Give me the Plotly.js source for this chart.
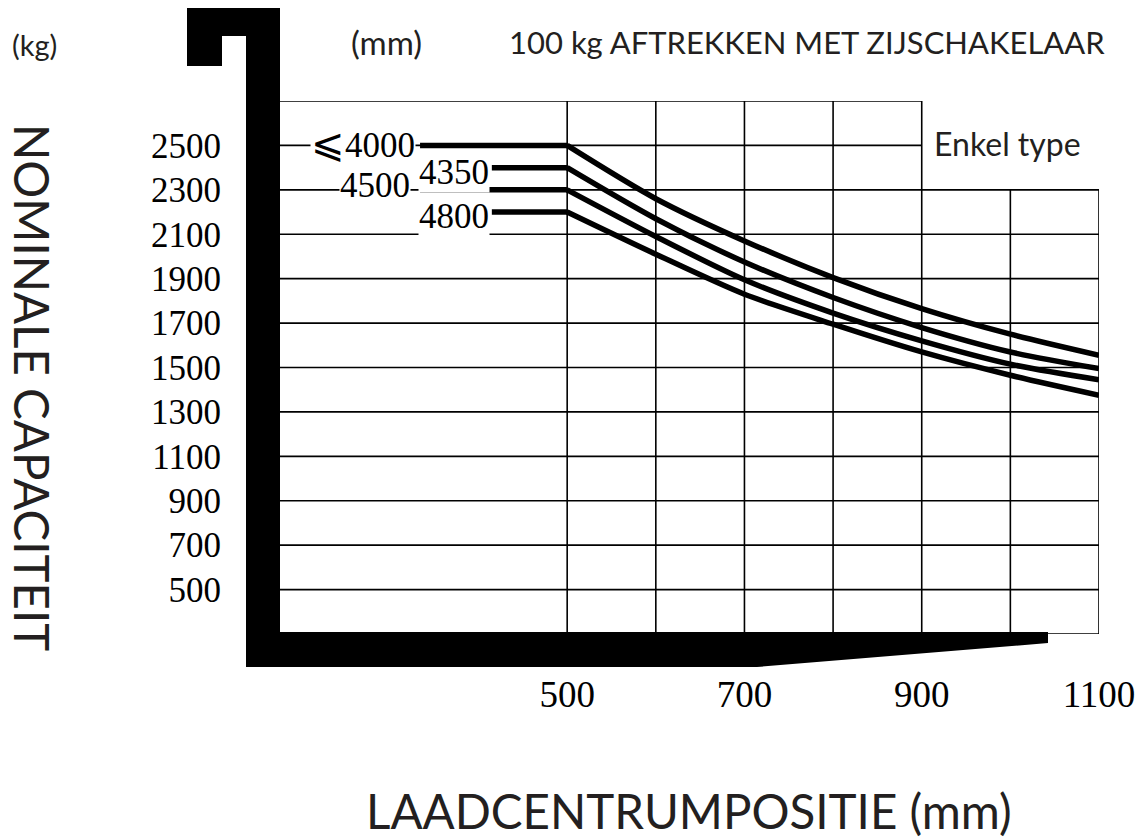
<!DOCTYPE html>
<html>
<head>
<meta charset="utf-8">
<script src="https://cdn.plot.ly/plotly-3.0.1.min.js"></script>
<style>html,body{margin:0;padding:0;background:#fff;}</style>
</head>
<body>
<div id="chart" style="width:1139px;height:839px;"></div>
<script>
// ---- data ----
const loadCentre = [500, 600, 700, 800, 900, 1000, 1100];
const cap4000 = [2500, 2260, 2070, 1905, 1765, 1650, 1555];
const cap4350 = [2400, 2170, 1975, 1815, 1680, 1570, 1495];
const cap4500 = [2300, 2090, 1895, 1745, 1620, 1515, 1445];
const cap4800 = [2200, 2010, 1830, 1695, 1570, 1465, 1375];
const flatStart = [334, 415, 334, 415];
const seriesLabels = ['<span style="font-size:40px">⩽</span>4000', '4350', '4500', '4800'];
const yTickVals = [500, 700, 900, 1100, 1300, 1500, 1700, 1900, 2100, 2300, 2500];
const yTickText = ['500', '700', '900', '1100', '1300', '1500', '1700', '1900', '2100', '2300', '2500'];
const xTickVals = [500, 700, 900, 1100];
const xTickText = ['500', '700', '900', '1100'];
const gridX = [500, 600, 700, 800, 900, 1000, 1100];
const gridY = [300, 500, 700, 900, 1100, 1300, 1500, 1700, 1900, 2100, 2300, 2500, 2700];

const series = [cap4000, cap4350, cap4500, cap4800];
const X0 = 176, X1 = 1100, Y0 = 300, Y1 = 2700;

// ---- traces ----
const traces = [];
series.forEach((vals, i) => {
  traces.push({
    x: [flatStart[i], loadCentre[0]], y: [vals[0], vals[0]],
    mode: 'lines', line: {color: '#000', width: 5.5}, hoverinfo: 'skip'
  });
  traces.push({
    x: loadCentre, y: vals,
    mode: 'lines', line: {color: '#000', width: 5.5, shape: 'spline', smoothing: 0.8}, hoverinfo: 'skip'
  });
});

// ---- grid shapes ----
const shapes = [];
const gridLine = {color: '#000', width: 1.6};
gridY.forEach(v => {
  const xEnd = v > 2300 ? 900 : X1;
  shapes.push({type: 'line', xref: 'x', yref: 'y', x0: X0, x1: xEnd, y0: v, y1: v, line: gridLine, layer: 'below'});
});
gridX.forEach(v => {
  const yEnd = v > 900 ? 2300 : Y1;
  shapes.push({type: 'line', xref: 'x', yref: 'y', x0: v, x1: v, y0: Y0, y1: yEnd, line: gridLine, layer: 'below'});
});

// ---- fork decoration (pixel outline mapped to paper) ----
const L = 280, R = 1099, T = 101, B = 634;
const px = p => (p - L) / (R - L);
const py = p => (B - p) / (B - T);
const fork = [[187, 8], [280, 8], [280, 632], [1048, 632], [1048, 643], [757, 667], [246, 667], [246, 36], [222, 36], [222, 66], [187, 66]];
const forkPath = fork.map((p, i) => (i === 0 ? 'M' : 'L') + px(p[0]).toFixed(5) + ',' + py(p[1]).toFixed(5)).join(' ') + ' Z';
shapes.push({type: 'path', xref: 'paper', yref: 'paper', path: forkPath, fillcolor: '#000', line: {width: 0}, layer: 'above'});

// ---- annotations ----
const serif = 'Liberation Serif, Times New Roman, serif';
const sans = 'Lato, Open Sans, sans-serif';
const txt = '#231f20';
const annotations = [];
const labelShift = [[-4, 2], [-2, -5], [-9, 4], [-2, -4]];
series.forEach((vals, i) => {
  annotations.push({
    x: flatStart[i], y: vals[0], xref: 'x', yref: 'y', text: seriesLabels[i],
    showarrow: false, xanchor: 'right', yanchor: 'middle', xshift: labelShift[i][0], yshift: labelShift[i][1],
    font: {family: serif, size: 35, color: '#000'}, bgcolor: '#fff', borderpad: 0
  });
});
annotations.push({x: px(34), y: py(45), xref: 'paper', yref: 'paper', text: '(kg)', showarrow: false, xanchor: 'center', yanchor: 'middle', font: {family: sans, size: 29, color: txt}});
annotations.push({x: px(386), y: py(42), xref: 'paper', yref: 'paper', text: '(mm)', showarrow: false, xanchor: 'center', yanchor: 'middle', font: {family: sans, size: 33, color: txt}});
annotations.push({x: px(507), y: py(42), xref: 'paper', yref: 'paper', text: '100 kg AFTREKKEN MET ZIJSCHAKELAAR', showarrow: false, xanchor: 'left', yanchor: 'middle', font: {family: sans, size: 31, color: txt}});
annotations.push({x: px(932), y: py(143), xref: 'paper', yref: 'paper', text: 'Enkel type', showarrow: false, xanchor: 'left', yanchor: 'middle', font: {family: sans, size: 32, color: txt}});
annotations.push({x: px(33), y: py(387), xref: 'paper', yref: 'paper', text: 'NOMINALE CAPACITEIT', textangle: 90, showarrow: false, xanchor: 'center', yanchor: 'middle', font: {family: sans, size: 47.5, color: txt}});
annotations.push({x: px(689), y: py(810), xref: 'paper', yref: 'paper', text: 'LAADCENTRUMPOSITIE (mm)', showarrow: false, xanchor: 'center', yanchor: 'middle', font: {family: sans, size: 47.5, color: txt}});

const layout = {
  width: 1139, height: 839,
  margin: {l: L, r: 1139 - R, t: T, b: 839 - B, pad: 0},
  paper_bgcolor: '#fff', plot_bgcolor: '#fff',
  showlegend: false,
  xaxis: {range: [X0, X1], showgrid: false, zeroline: false, showline: false, ticks: '',
    tickvals: xTickVals, ticktext: xTickText, ticklabelstandoff: 35,
    tickfont: {family: serif, size: 37, color: '#000'}, fixedrange: true},
  yaxis: {range: [Y0, Y1], showgrid: false, zeroline: false, showline: false, ticks: '',
    tickvals: yTickVals, ticktext: yTickText, ticklabelstandoff: 58,
    tickfont: {family: serif, size: 35, color: '#000'}, fixedrange: true},
  shapes: shapes,
  annotations: annotations
};

Plotly.newPlot('chart', traces, layout, {displayModeBar: false, staticPlot: true});
</script>
</body>
</html>
